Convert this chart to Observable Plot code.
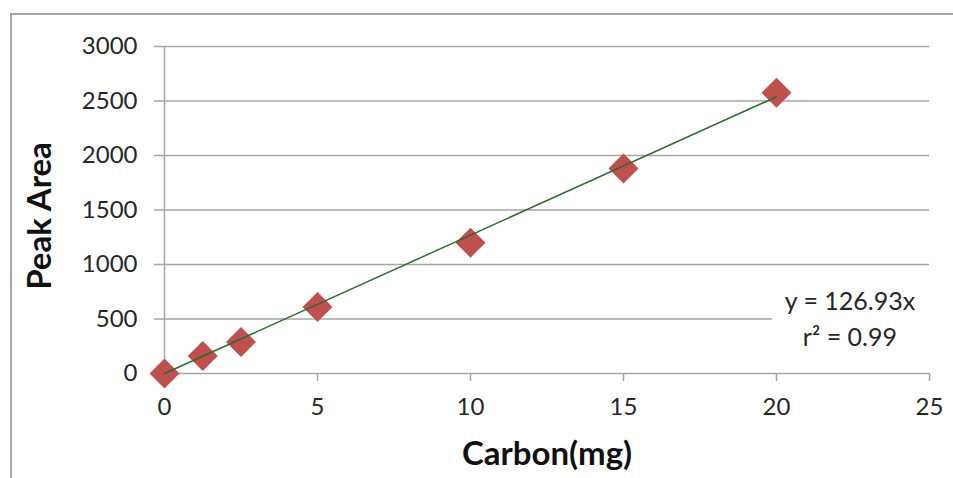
<!DOCTYPE html>
<html>
<head>
<meta charset="utf-8">
<script src="https://cdn.jsdelivr.net/npm/d3@7"></script>
<script src="https://cdn.jsdelivr.net/npm/@observablehq/plot@0.6"></script>
<style>
  html, body { margin: 0; padding: 0; background: #fff; }
  #wrap { position: relative; width: 953px; height: 478px; overflow: hidden; font-family: Lato, "Open Sans", sans-serif; }
  #border { position: absolute; left: 10px; top: 13px; width: 1000px; height: 1000px; border-left: 2px solid #a6a6a6; border-top: 2px solid #a6a6a6; box-sizing: border-box; }
  #chart { position: absolute; left: 0; top: 0; }
</style>
</head>
<body>
<div id="wrap"><div id="border"></div><div id="chart"></div></div>
<script>
// Data
const carbon = [0, 1.25, 2.5, 5, 10, 15, 20];
const peakArea = [0, 160, 290, 610, 1200, 1880, 2575];
const xTicks = [0, 5, 10, 15, 20, 25];
const yTicks = [0, 500, 1000, 1500, 2000, 2500, 3000];
const slope = 126.93;
const trendX = [0, 20];
const equationLines = ["y = 126.93x", "r\u00B2 = 0.99"];

const points = carbon.map((c, i) => ({x: c, y: peakArea[i]}));
const trend = trendX.map(x => ({x, y: slope * x}));

const labelBox = {x1: 19.87, x2: 25, y1: 200, y2: 780};
const labelX = 22.4;
const labelYs = [660, 330];

const gridColor = "#a6a6a6";
const textColor = "#262626";

const chart = Plot.plot({
  width: 953,
  height: 478,
  marginLeft: 164,
  marginRight: 24,
  marginTop: 46,
  marginBottom: 105,
  style: {fontFamily: "Lato, 'Open Sans', sans-serif", background: "transparent"},
  x: {domain: [0, 25]},
  y: {domain: [0, 3000]},
  marks: [
    Plot.ruleY(yTicks.filter(d => d > 0), {stroke: gridColor, strokeWidth: 1.5}),
    Plot.rect([labelBox], {x1: "x1", x2: "x2", y1: "y1", y2: "y2", fill: "white"}),
    Plot.ruleX([0], {stroke: gridColor, strokeWidth: 1.5}),
    Plot.ruleY([0], {stroke: gridColor, strokeWidth: 1.5}),
    Plot.axisX({ticks: xTicks, tickFormat: d => String(d), tickSize: 8, tickPadding: 16, stroke: gridColor, strokeWidth: 1.5, fill: textColor, fontSize: 24, label: null}),
    Plot.axisY({ticks: yTicks, tickFormat: d => String(d), tickSize: 10, tickPadding: 17, stroke: gridColor, strokeWidth: 1.5, fill: textColor, fontSize: 24, letterSpacing: 1, label: null}),
    Plot.dot(points, {x: "x", y: "y", symbol: "diamond2", r: 13.5, fill: "#c0504d", stroke: "none"}),
    Plot.line(trend, {x: "x", y: "y", stroke: "#2f6b2f", strokeWidth: 1.5}),
    Plot.text(equationLines, {x: () => labelX, y: (d, i) => labelYs[i], text: d => d, fontSize: 25, fill: textColor, textAnchor: "middle"}),
    Plot.text(["Carbon(mg)"], {frameAnchor: "bottom", dy: 91, fontSize: 33, fontWeight: "bold", fill: "#111", textAnchor: "middle"}),
    Plot.text(["Peak Area"], {frameAnchor: "left", dx: -124, dy: 6, rotate: -90, fontSize: 33, fontWeight: "bold", fill: "#111", textAnchor: "middle", lineAnchor: "middle"})
  ]
});
document.getElementById("chart").appendChild(chart);
</script>
</body>
</html>
